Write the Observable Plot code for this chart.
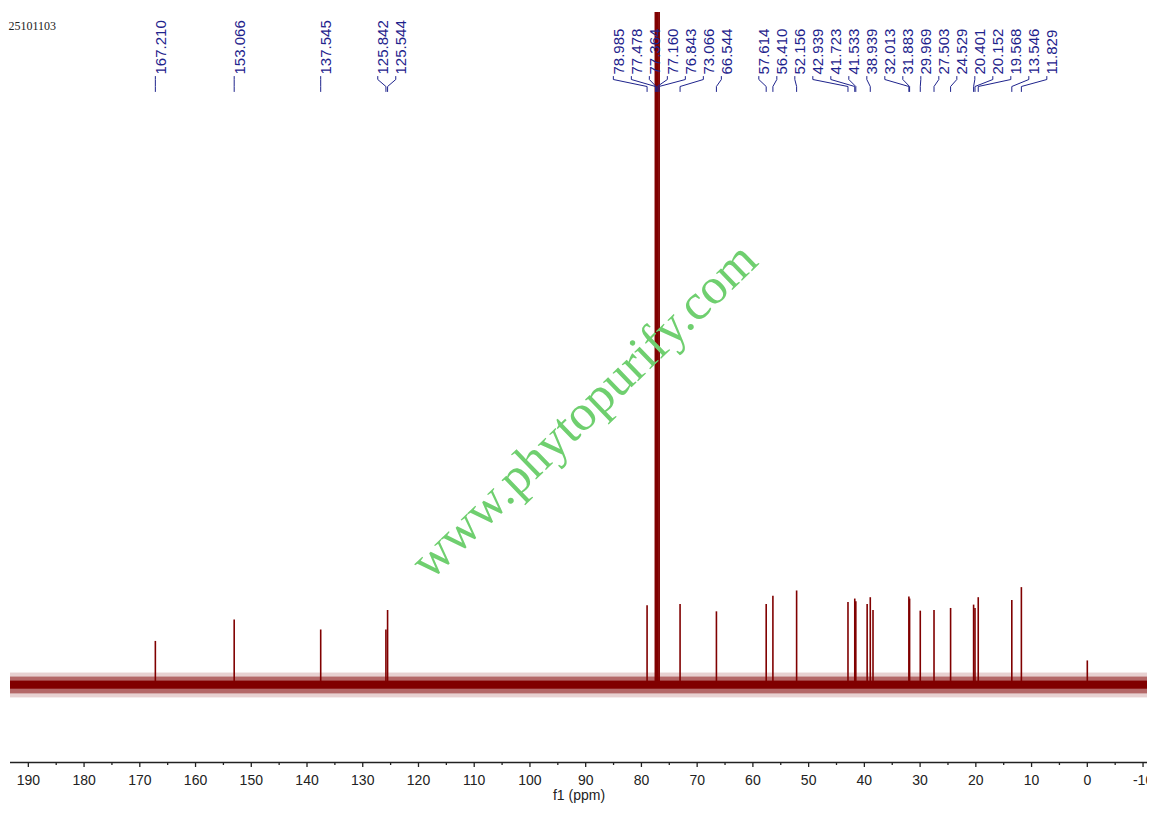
<!DOCTYPE html>
<html>
<head>
<meta charset="utf-8">
<script src="https://cdn.jsdelivr.net/npm/d3@7"></script>
<script src="https://cdn.jsdelivr.net/npm/@observablehq/plot@0.6"></script>
<style>
  html, body { margin: 0; padding: 0; background: #fff; }
  #chart { width: 1153px; height: 813px; overflow: hidden; }
</style>
</head>
<body>
<div id="chart"></div>
<script>
// ---- data ----
const sampleId = "25101103";
const watermark = "www.phytopurify.com";
const axisTitle = "f1 (ppm)";

const xDomain = [193.2, -10.8];          // ppm, left to right
const yDomain = [-11.5, 100];            // relative intensity

const majorTicks = [190,180,170,160,150,140,130,120,110,100,90,80,70,60,50,40,30,20,10,0,-10];
const minorTicks = [185,175,165,155,145,135,125,115,105,95,85,75,65,55,45,35,25,15,5,-5];

// picked peak labels (ppm)
const labelValues = [167.210,153.066,137.545,125.842,125.544,78.985,77.478,77.364,77.160,76.843,
  73.066,66.544,57.614,56.410,52.156,42.939,41.723,41.533,38.939,32.013,31.883,29.969,27.503,
  24.529,20.401,20.152,19.568,13.546,11.829];

// spectrum lines (ppm, height)
const peakPpm    = [167.210,153.066,137.545,125.842,125.544,78.985,73.066,66.544,57.614,56.410,52.156,
  42.939,41.723,41.533,39.50,38.939,38.45,32.013,31.883,29.969,27.503,24.529,20.401,20.152,19.568,
  13.546,11.829,0.00];
const peakHeight = [6.5,9.7,8.2,8.2,11.1,11.8,12.0,10.9,12.0,13.2,14.0,
  12.3,12.8,12.4,12.0,13.0,11.1,13.1,12.8,11.0,11.1,11.4,11.9,11.4,13.0,
  12.6,14.5,3.6];

// CDCl3 solvent multiplet (runs off the top)
const solventPpm    = [77.478,77.364,77.160,76.843];
const solventHeight = [100,100,100,100];

// baseline noise envelope (intensity units): outer, middle, core
const noiseOuter = [-1.9, 1.8];
const noiseMid   = [-1.3, 1.2];
const noiseCore  = [-0.6, 0.6];

// ---- layout helpers ----
const W = 1147, H = 813, mL = 10, mR = 0, mT = 12, mB = 51;
const xs = d3.scaleLinear().domain(xDomain).range([mL, W - mR]);
const ys = d3.scaleLinear().domain(yDomain).range([H - mB, mT]);

// spread the labels so they do not overlap (pixel space), keeping order
const gap = 18;
const pos = labelValues.map(v => xs(v));
let clusters = [];
pos.forEach((p, i) => {
  clusters.push({idx: [i], sum: p, start: p});
  while (clusters.length > 1) {
    const a = clusters[clusters.length - 2], b = clusters[clusters.length - 1];
    if (a.start + a.idx.length * gap > b.start) {
      const m = {idx: a.idx.concat(b.idx), sum: a.sum + b.sum};
      m.start = m.sum / m.idx.length - (m.idx.length - 1) * gap / 2;
      clusters.splice(clusters.length - 2, 2, m);
    } else break;
  }
});
const labelPx = new Array(pos.length);
clusters.forEach(c => c.idx.forEach((i, k) => labelPx[i] = c.start + k * gap));

const labels = labelValues.map((v, i) => ({
  text: v.toFixed(3), ppm: v, at: xs.invert(labelPx[i])
}));

// connector polylines (label foot -> peak)
const connY = [76, 79, 86, 91].map(py => ys.invert(py));
const connectors = labels.flatMap((d, i) => [
  {id: i, x: d.at,  y: connY[0]},
  {id: i, x: d.at,  y: connY[1]},
  {id: i, x: d.ppm, y: connY[2]},
  {id: i, x: d.ppm, y: connY[3]}
]);

const peaks = peakPpm.map((p, i) => ({ppm: p, h: peakHeight[i]}));
const solvent = solventPpm.map((p, i) => ({ppm: p, h: solventHeight[i]}));

const red = "#800000";
const blue = "#1e238c";

const band = (r, op) => Plot.rect([0], {x1: xDomain[0], x2: xDomain[1], y1: r[0], y2: r[1], fill: red, fillOpacity: op});

const chart = Plot.plot({
  width: W, height: H,
  marginLeft: mL, marginRight: mR, marginTop: mT, marginBottom: mB,
  style: {fontFamily: "'Liberation Sans', Arial, sans-serif", background: "#fff", color: "#222"},
  x: {domain: xDomain, axis: null},
  y: {domain: yDomain, axis: null},
  marks: [
    // noise band
    band(noiseOuter, 0.18),
    band(noiseMid, 0.5),
    band(noiseCore, 1),
    // peaks
    Plot.ruleX(peaks, {x: "ppm", y1: 0, y2: "h", stroke: red, strokeWidth: 1.6}),
    Plot.ruleX(solvent, {x: "ppm", y1: 0, y2: "h", stroke: red, strokeWidth: 1.9}),
    // x axis
    Plot.ruleY([yDomain[0]], {stroke: "#222", strokeWidth: 1.4}),
    Plot.axisX({ticks: majorTicks, tickSize: 5, tickPadding: 8, fontSize: 14, tickFormat: d => String(d), label: null, stroke: "#222", strokeWidth: 1.3}),
    Plot.axisX({ticks: minorTicks, tickSize: 3, tickFormat: () => "", label: null, stroke: "#222", strokeWidth: 1.3}),
    Plot.text([axisTitle], {frameAnchor: "bottom", dy: 37, fontSize: 14, fill: "#222"}),
    // peak labels
    Plot.line(connectors, {x: "x", y: "y", z: "id", stroke: blue, strokeWidth: 1, curve: "linear"}),
    Plot.text(labels, {x: "at", text: "text", frameAnchor: "top", dy: 62, rotate: -90, textAnchor: "start", fontSize: 15, fill: blue}),
    // sample id
    Plot.text([sampleId], {frameAnchor: "top-left", dx: -2, dy: 9, textAnchor: "start", fontSize: 12, fill: "#222", fontFamily: "'Liberation Serif', 'DejaVu Serif', serif"}),
    // watermark
    Plot.text([watermark], {frameAnchor: "middle", dx: 5, dy: 23, rotate: -44, fontSize: 51, fill: "#6fcf6f", fontFamily: "'Liberation Serif', 'DejaVu Serif', serif", textAnchor: "middle"})
  ]
});
document.getElementById("chart").appendChild(chart);
</script>
</body>
</html>
